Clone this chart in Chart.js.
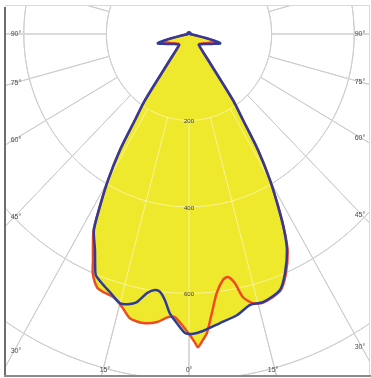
<!DOCTYPE html>
<html>
<head>
<meta charset="utf-8">
<script src="https://cdn.jsdelivr.net/npm/chart.js@4/dist/chart.umd.min.js"></script>
<style>
  html, body { margin: 0; padding: 0; background: #ffffff; }
  canvas { display: block; }
</style>
</head>
<body>
<canvas id="diagram" width="371" height="378"></canvas>
<script>
// Luminous intensity distribution (cd/klm) against gamma angle in degrees.
// 0 = straight down, negative angles on the left half, +/-180 = straight up.

// C90-C270 plane (blue)
const gammaC90 = [-180, -150, -120, -90, -85, -80, -78, -77, -76, -75, -74, -72, -70, -65, -60, -55, -50,
  -43.5, -37.5, -34.8, -33.3, -31.9, -30.1, -28.4, -26.9, -24.5, -23.2, -22.0, -20.1, -17.8, -15.0,
  -13.5, -11.5, -9.6, -7.9, -6.7, -5.4, -4.1, -2.5, -0.8, 0.6, 2.8, 6.4, 10.1, 13.3, 16.1, 20.4,
  22.8, 25.4, 26.9, 28.4, 30.1, 31.9, 33.3, 34.8, 37.5, 43.5, 50, 55, 60, 65, 70, 72, 74, 75, 76, 77,
  78, 80, 85, 90, 120, 150, 180];
const intensityC90 = [4, 4, 4, 3, 3, 8, 24, 44, 62, 74, 79, 74, 66, 55, 47, 41, 37,
  35, 76, 186, 238, 316, 391, 453, 509, 549, 577, 602, 614, 627, 645,
  643, 633, 608, 598, 601, 619, 648, 670, 692, 694, 688, 673, 661, 644, 646, 632,
  600, 553, 509, 453, 391, 316, 238, 186, 76, 35, 37, 41, 47, 55, 66, 74, 79, 74, 62, 44,
  24, 8, 3, 3, 4, 4, 4];

// C0-C180 plane (red)
const gammaC0 = [-180, -150, -120, -90, -85, -80, -78, -77, -76, -75, -74, -72, -70, -65, -60, -55, -50,
  -43.5, -37.5, -34.8, -33.3, -31.9, -30.1, -28.4, -26.9, -23.9, -22.8, -20.8, -19.2, -16.8, -14.4,
  -12.3, -9.4, -6.6, -4.4, -3.0, -1.4, 0.2, 1.2, 1.7, 2.7, 3.6, 4.9, 6.4, 8.2, 9.5, 10.9, 12.1,
  14.0, 16.1, 20.4, 22.8, 25.4, 26.9, 28.4, 30.1, 31.9, 33.3, 34.8, 37.5, 43.5, 50, 55, 60, 65,
  70, 72, 74, 75, 76, 77, 78, 80, 85, 90, 120, 150, 180];
const intensityC0 = [4, 4, 4, 3, 3, 7, 20, 38, 54, 64, 68, 65, 58, 50, 43, 38, 35,
  34, 76, 187, 239, 317, 392, 455, 511, 574, 601, 627, 632, 636, 652,
  673, 678, 671, 657, 656, 674, 697, 715, 725, 709, 693, 648, 603, 575, 570, 587, 623,
  642, 647, 634, 604, 557, 511, 455, 392, 317, 239, 187, 76, 34, 35, 38, 43, 50,
  58, 65, 68, 64, 54, 38, 20, 7, 3, 3, 4, 4, 4];

// Polar grid
const ringValues = [200, 400, 600, 800];
const ringLabels = ['200', '400', '600'];
const spokeAngles = [-180, -165, -150, -135, -120, -105, -90, -75, -60, -45, -30, -15, 0,
  15, 30, 45, 60, 75, 90, 105, 120, 135, 150, 165, 180];
const labelAngles = [-90, -75, -60, -45, -30, -15, 0, 15, 30, 45, 60, 75, 90];
const angleLabels = ['90°', '75°', '60°', '45°', '30°', '15°', '0°', '15°', '30°', '45°', '60°', '75°', '90°'];

const FILL_YELLOW = '#efe92e';

function toXY(gammas, values) {
  return gammas.map((g, i) => {
    const t = g * Math.PI / 180;
    return { x: values[i] * Math.sin(t), y: -values[i] * Math.cos(t) };
  });
}

const polarPlugin = {
  id: 'polarPlugin',
  beforeDatasetsDraw(chart) {
    const { ctx, chartArea: a, scales: { x, y } } = chart;
    const P = (r, deg) => {
      const t = deg * Math.PI / 180;
      return [x.getPixelForValue(r * Math.sin(t)), y.getPixelForValue(-r * Math.cos(t))];
    };
    ctx.save();
    ctx.beginPath();
    ctx.rect(a.left, a.top, a.width, a.height);
    ctx.clip();

    const drawGrid = (color) => {
      ctx.strokeStyle = color;
      ctx.lineWidth = 1;
      ringValues.forEach(v => {
        ctx.beginPath();
        for (let d = 0; d <= 360; d += 2) {
          const [px, py] = P(v, d);
          if (d === 0) ctx.moveTo(px, py); else ctx.lineTo(px, py);
        }
        ctx.closePath();
        ctx.stroke();
      });
      spokeAngles.forEach(g => {
        const [x0, y0] = P(ringValues[0], g);
        const [x1, y1] = P(3000, g);
        ctx.beginPath();
        ctx.moveTo(x0, y0);
        ctx.lineTo(x1, y1);
        ctx.stroke();
      });
    };

    drawGrid('#9c9c9c');

    // Yellow area: union of both planes
    ctx.fillStyle = FILL_YELLOW;
    chart.data.datasets.forEach((ds, i) => {
      const meta = chart.getDatasetMeta(i);
      const line = meta.dataset;
      ctx.beginPath();
      let done = false;
      try {
        line.updateControlPoints(a, 'x');
        line.path(ctx);
        done = true;
      } catch (e) { done = false; }
      if (!done) {
        ctx.beginPath();
        meta.data.forEach((pt, j) => { if (j) ctx.lineTo(pt.x, pt.y); else ctx.moveTo(pt.x, pt.y); });
      }
      ctx.closePath();
      ctx.fill();
    });

    drawGrid('rgba(255,255,255,0.5)');

    // Ring values along the 0° spoke
    ctx.fillStyle = '#3a3a3a';
    ctx.font = '6px "Liberation Sans", Arial, sans-serif';
    ctx.textAlign = 'center';
    ctx.textBaseline = 'middle';
    ringLabels.forEach((lbl, i) => {
      const [px, py] = P(ringValues[i], 0);
      ctx.fillText(lbl, px, py + 1);
    });

    // Angle labels where each spoke meets an inset frame
    const inL = a.left + 9, inR = a.right - 7, inB = a.bottom - 5;
    const [cx, cy] = P(0, 0);
    ctx.font = '7px "Liberation Sans", Arial, sans-serif';
    ctx.fillStyle = '#4a4a4a';
    labelAngles.forEach((g, i) => {
      const [fx, fy] = P(3000, g);
      const dx = fx - cx, dy = fy - cy;
      let t = Infinity;
      if (dx < 0) t = Math.min(t, (inL - cx) / dx);
      if (dx > 0) t = Math.min(t, (inR - cx) / dx);
      if (dy > 0) t = Math.min(t, (inB - cy) / dy);
      const lx = cx + dx * t, ly = cy + dy * t;
      ctx.fillText(angleLabels[i], lx - Math.sign(dx) * 2, ly);
    });
    ctx.restore();
  },
  afterDraw(chart) {
    const { ctx, chartArea: a } = chart;
    ctx.save();
    ctx.lineWidth = 1;
    ctx.strokeStyle = '#dadada';
    ctx.beginPath();
    ctx.moveTo(a.left, a.top + 0.5);
    ctx.lineTo(a.right, a.top + 0.5);
    ctx.moveTo(a.right + 0.5, a.top);
    ctx.lineTo(a.right + 0.5, a.bottom);
    ctx.stroke();
    ctx.lineWidth = 2;
    ctx.strokeStyle = '#6e6e6e';
    ctx.beginPath();
    ctx.moveTo(a.left, a.top + 2);
    ctx.lineTo(a.left, a.bottom + 1);
    ctx.stroke();
    ctx.strokeStyle = '#8a8a8a';
    ctx.beginPath();
    ctx.moveTo(a.left - 1, a.bottom + 1);
    ctx.lineTo(a.right + 2, a.bottom + 1);
    ctx.stroke();
    ctx.restore();
  }
};

new Chart(document.getElementById('diagram'), {
  type: 'scatter',
  data: {
    datasets: [
      {
        label: 'C90-C270',
        data: toXY(gammaC90, intensityC90),
        showLine: true,
        fill: false,
        borderColor: '#2f3b9c',
        borderWidth: 2.5,
        tension: 0.25,
        pointRadius: 0
      },
      {
        label: 'C0-C180',
        data: toXY(gammaC0, intensityC0),
        showLine: true,
        fill: false,
        borderColor: '#ee4a24',
        borderWidth: 2.5,
        tension: 0.25,
        pointRadius: 0
      }
    ]
  },
  options: {
    responsive: false,
    animation: false,
    devicePixelRatio: 1,
    layout: { padding: { left: 5, right: 2, top: 5, bottom: 3 } },
    scales: {
      x: { type: 'linear', min: -445.5, max: 435.8, display: false },
      y: { type: 'linear', min: -789, max: 67, display: false }
    },
    plugins: {
      legend: { display: false },
      tooltip: { enabled: false }
    }
  },
  plugins: [polarPlugin]
});
</script>
</body>
</html>
